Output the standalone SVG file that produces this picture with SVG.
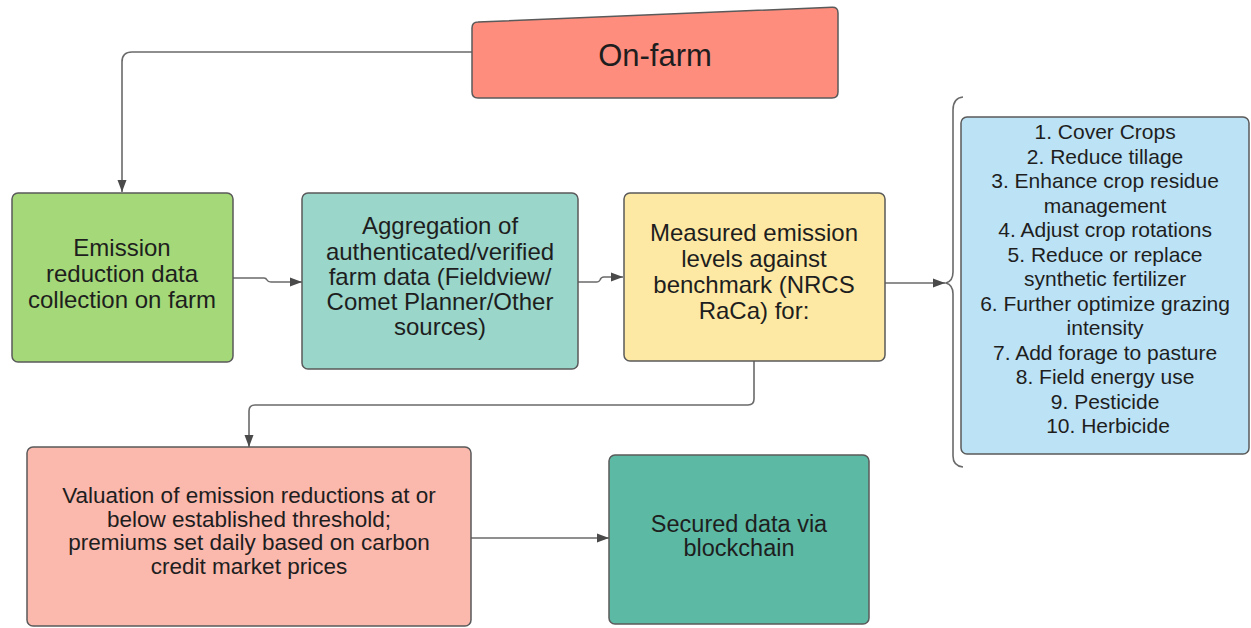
<svg xmlns="http://www.w3.org/2000/svg" width="1251" height="628" viewBox="0 0 1251 628">
<defs>
<style>
.box{stroke:#5a5a5a;stroke-width:1.5}
.t{font-family:"Liberation Sans",Arial,sans-serif;fill:#1e1e1e;text-anchor:middle}
.c{fill:none;stroke:#6a6a6a;stroke-width:1.6}
</style>
<marker id="ah" markerUnits="userSpaceOnUse" markerWidth="12" markerHeight="10" refX="12" refY="5" orient="auto">
<path d="M0,0.5 L12,5 L0,9.5 Z" fill="#4a4a4a"/>
</marker>
</defs>
<rect width="1251" height="628" fill="#ffffff"/>

<g id="connectors">
<path class="c" d="M472,52 H132 Q122,52 122,62 V192" marker-end="url(#ah)"/>
<path class="c" d="M233,278 H264 Q266,278 267,280 Q268,282 271,282 H302" marker-end="url(#ah)"/>
<path class="c" d="M578,282 H597 Q599,282 600,280 Q601,277 604,277 H623" marker-end="url(#ah)"/>
<path class="c" d="M885,283 H945" marker-end="url(#ah)"/>
<path class="c" d="M754,361 V399 Q754,405 748,405 H255 Q249,405 249,411 V447" marker-end="url(#ah)"/>
<path class="c" d="M471,538 H609" marker-end="url(#ah)"/>
<path class="c" d="M963,97 Q953,98 953,110 V272 Q953,281 946,283 Q953,285 953,294 V456 Q953,466 963,467"/>
</g>

<g id="on-farm">
<path class="box" fill="#fe8d7e" d="M478,22 L832,7.3 Q838,7 838,13 L838,92 Q838,98 832,98 L478,98 Q472,98 472,92 L472,28 Q472,22 478,22 Z"/>
<text class="t" x="655" y="66" font-size="31">On-farm</text>
</g>

<g id="collection">
<rect class="box" x="12" y="193" width="221" height="169" rx="6" fill="#a4d878"/>
<text class="t" font-size="24"><tspan x="122" y="256">Emission</tspan><tspan x="122" y="282">reduction data</tspan><tspan x="122" y="308">collection on farm</tspan></text>
</g>

<g id="aggregation">
<rect class="box" x="302" y="193" width="276" height="176" rx="6" fill="#9ad6ca"/>
<text class="t" font-size="24"><tspan x="440" y="234">Aggregation of</tspan><tspan x="440" y="260">authenticated/verified</tspan><tspan x="440" y="285">farm data (Fieldview/</tspan><tspan x="440" y="310">Comet Planner/Other</tspan><tspan x="440" y="335">sources)</tspan></text>
</g>

<g id="measured">
<rect class="box" x="624" y="193" width="261" height="168" rx="6" fill="#fde9a3"/>
<text class="t" font-size="24"><tspan x="754" y="241">Measured emission</tspan><tspan x="754" y="267">levels against</tspan><tspan x="754" y="293">benchmark (NRCS</tspan><tspan x="754" y="319">RaCa) for:</tspan></text>
</g>

<g id="practices">
<rect class="box" x="961" y="117" width="288" height="337" rx="6" fill="#bce2f5"/>
<text class="t" font-size="21">
<tspan x="1108" y="139">1. Cover Crops</tspan>
<tspan x="1108" y="163.5">2. Reduce tillage</tspan>
<tspan x="1108" y="188">3. Enhance crop residue</tspan>
<tspan x="1108" y="212.5">management</tspan>
<tspan x="1108" y="237">4. Adjust crop rotations</tspan>
<tspan x="1108" y="261.5">5. Reduce or replace</tspan>
<tspan x="1108" y="286">synthetic fertilizer</tspan>
<tspan x="1108" y="310.5">6. Further optimize grazing</tspan>
<tspan x="1108" y="335">intensity</tspan>
<tspan x="1108" y="359.5">7. Add forage to pasture</tspan>
<tspan x="1108" y="384">8. Field energy use</tspan>
<tspan x="1108" y="408.5">9. Pesticide</tspan>
<tspan x="1108" y="433">10. Herbicide</tspan>
</text>
</g>

<g id="valuation">
<rect class="box" x="27" y="447" width="444" height="179" rx="6" fill="#fbb8ad"/>
<text class="t" font-size="22.5"><tspan x="249" y="503">Valuation of emission reductions at or</tspan><tspan x="249" y="526.5">below established threshold;</tspan><tspan x="249" y="550">premiums set daily based on carbon</tspan><tspan x="249" y="573.5">credit market prices</tspan></text>
</g>

<g id="secured">
<rect class="box" x="609" y="455" width="260" height="169" rx="6" fill="#5cb9a4"/>
<text class="t" font-size="23.5"><tspan x="739" y="532">Secured data via</tspan><tspan x="739" y="556">blockchain</tspan></text>
</g>
</svg>
